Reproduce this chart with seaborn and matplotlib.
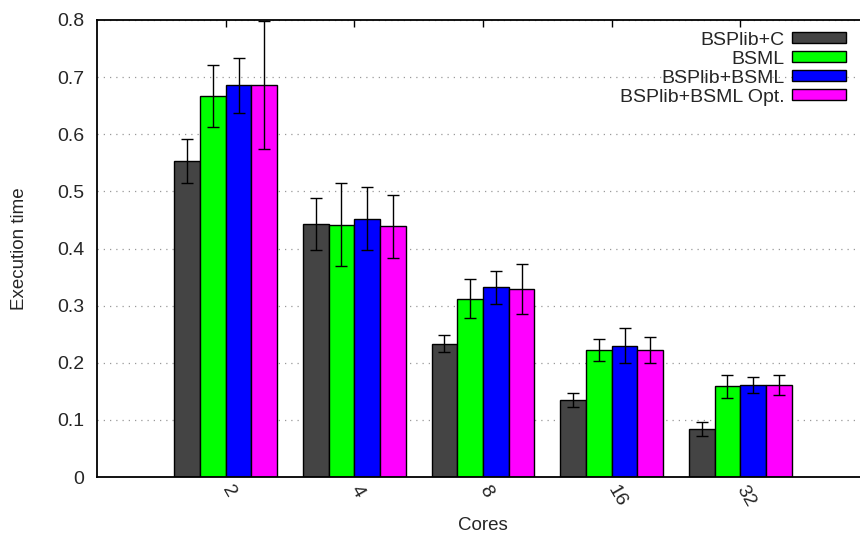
import pandas as pd
import seaborn as sns
from matplotlib import pyplot as plt

cores = ['2', '4', '8', '16', '32']
series = ['BSPlib+C', 'BSML', 'BSPlib+BSML', 'BSPlib+BSML Opt.']

bsplib_c = [0.553, 0.443, 0.233, 0.135, 0.084]
bsplib_c_err = [0.039, 0.045, 0.015, 0.012, 0.013]
bsml = [0.667, 0.442, 0.312, 0.222, 0.159]
bsml_err = [0.055, 0.073, 0.034, 0.019, 0.020]
bsplib_bsml = [0.686, 0.452, 0.332, 0.230, 0.161]
bsplib_bsml_err = [0.048, 0.055, 0.029, 0.030, 0.014]
bsplib_bsml_opt = [0.686, 0.439, 0.329, 0.222, 0.161]
bsplib_bsml_opt_err = [0.112, 0.055, 0.044, 0.023, 0.018]

colors = ['#444444', '#00ff00', '#0000ff', '#ff00ff']

values = [bsplib_c, bsml, bsplib_bsml, bsplib_bsml_opt]
errors = [bsplib_c_err, bsml_err, bsplib_bsml_err, bsplib_bsml_opt_err]

rows = []
for name, vals in zip(series, values):
    for c, v in zip(cores, vals):
        rows.append({'Cores': c, 'time': v, 'version': name})
df = pd.DataFrame(rows)

sns.set_style('white')
plt.rcParams['font.family'] = ['Liberation Sans', 'DejaVu Sans']

fig = plt.figure(figsize=(8.6, 5.36), dpi=100)
# axes run slightly past the right edge, like the cropped original
ax = fig.add_axes([97 / 860, 59 / 536, 772 / 860, 457 / 536])

sns.barplot(data=df, x='Cores', y='time', hue='version', order=cores,
            hue_order=series, palette=colors, width=0.8, errorbar=None,
            edgecolor='black', linewidth=1.0, saturation=1, legend=False,
            zorder=2, ax=ax)

for cont, errs in zip(ax.containers, errors):
    xs = [b.get_x() + b.get_width() / 2 for b in cont]
    ys = [b.get_height() for b in cont]
    ax.errorbar(xs, ys, yerr=errs, fmt='none', ecolor='black',
                elinewidth=1.0, capsize=4, capthick=1.0, zorder=3)

ax.set_xlim(-1, 5)
ax.set_ylim(0, 0.8)
ax.set_yticks([0, 0.1, 0.2, 0.3, 0.4, 0.5, 0.6, 0.7, 0.8])
ax.set_yticklabels(['0', '0.1', '0.2', '0.3', '0.4', '0.5', '0.6', '0.7', '0.8'])
ax.yaxis.grid(True, color='#999999', linestyle=(0, (1, 4)), linewidth=0.9, zorder=0)
ax.set_axisbelow(True)

for s in ax.spines.values():
    s.set_color('black')
    s.set_linewidth(1.3)

ax.tick_params(axis='both', direction='in', length=5, width=1, color='black',
               top=True, right=True, labelsize=14)
ax.tick_params(axis='y', pad=9)
ax.tick_params(axis='x', pad=7)
for lab in ax.get_xticklabels():
    lab.set_rotation(-60)
    lab.set_ha('left')
    lab.set_va('center')
    lab.set_rotation_mode('anchor')

ax.set_xlabel('Cores', fontsize=13.5, labelpad=5)
ax.set_ylabel('Execution time', fontsize=13.5, labelpad=21)

ax.legend(ax.containers, series, loc='upper right',
          bbox_to_anchor=(854 / 860, 1 - 24 / 536), bbox_transform=fig.transFigure,
          frameon=False, markerfirst=False, fontsize=14, handlelength=2.8,
          handleheight=0.5, labelspacing=0.1, handletextpad=0.35, borderaxespad=0)

plt.savefig('out.png', dpi=100)
